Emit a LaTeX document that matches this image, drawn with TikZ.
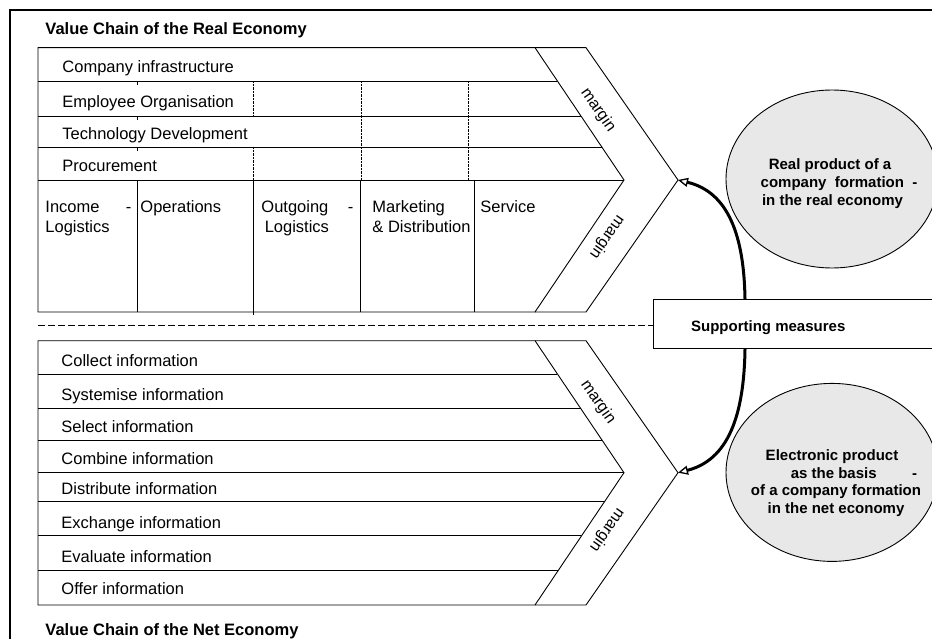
\documentclass[tikz,border=0pt]{standalone}
\usepackage{fontspec}
\setmainfont{Liberation Sans}
\usetikzlibrary{shapes.geometric,arrows.meta,calc}
\definecolor{ellfill}{RGB}{232,232,232}
\begin{document}
\begin{tikzpicture}[x=1pt,y=-1pt,
  line width=0.9pt,
  txt/.style={inner sep=0pt, anchor=base west, font=\fontsize{16.5}{19}\selectfont},
  ttl/.style={inner sep=0pt, anchor=base west, font=\fontsize{16.5}{19}\selectfont\bfseries},
  btxt/.style={inner sep=0pt, anchor=base, font=\fontsize{15}{18}\selectfont\bfseries},
  mrg/.style={inner sep=0pt, font=\fontsize{16}{19}\selectfont},
  dotv/.style={line width=1pt, dash pattern=on 0.7pt off 0.7pt},
  prod/.style={ellipse, draw, fill=ellfill, minimum width=212pt, minimum height=178pt, inner sep=0pt},
  flow/.style={line width=3pt, -{Triangle[open,length=10pt,width=9pt,line width=1.3pt]}},
  dashsep/.style={line width=1.4pt, dash pattern=on 6.5pt off 3.5pt},
]
\useasboundingbox (0,0) rectangle (932,639);
\clip (0,0) rectangle (932,639);
\fill[white] (0,0) rectangle (932,639);

% outer frame
\draw[line width=1.1pt] (10,650) -- (10,10) -- (945,10);

% titles
\node[ttl] (t1) at (45,35) {Value Chain of the Real Economy};
\node[ttl] (t2) at (45,635) {Value Chain of the Net Economy};

% ---- top chevron (real economy)
\draw (38,47.7) -- (535,47.7) -- (624,180) -- (535,312) -- (38,312) -- cycle;
\draw (535,47.7) -- (586,47.7) -- (678,180) -- (586,312) -- (535,312);
\coordinate (tipA) at (678,180);
\draw (38,81) -- (557.4,81);
\draw (38,116) -- (580.9,116);
\draw (38,147) -- (601.8,147);
\draw (38,180) -- (624,180);
% primary activity separators
\draw (137,180) -- (137,312);
\draw (253,180) -- (253,315);
\draw (360,180) -- (360,312);
\draw (474,180) -- (474,312);
% dotted separators in support rows
\draw[dotv] (253,81) -- (253,116);
\draw[dotv] (253,147) -- (253,180);
\draw[dotv] (361,81) -- (361,180);
\draw[dotv] (468,81) -- (468,180);
% small ticks
\draw (137,81) -- (137,85);
\draw (137,116) -- (137,120);
\draw (137,147) -- (137,151);

% support texts
\node[txt] (r1) at (62,72.3) {Company infrastructure};
\node[txt] (r2) at (62,107.3) {Employee Organisation};
\node[txt] (r3) at (62,139.3) {Technology Development};
\node[txt] (r4) at (62,172) {Procurement};
% primary texts
\node[txt] (p1a) at (45,212.7) {\makebox[86pt][l]{Income\hfill-}};
\node[txt] (p1b) at (45,232.7) {Logistics};
\node[txt] (p2) at (140,212.7) {Operations};
\node[txt] (p3a) at (261,212.7) {\makebox[92pt][l]{Outgoing\hfill-}};
\node[txt] (p3b) at (264.3,232.7) {Logistics};
\node[txt] (p4a) at (372,212.7) {Marketing};
\node[txt] (p4b) at (372,232.7) {\& Distribution};
\node[txt] (p5) at (480,212.7) {Service};

% ---- bottom chevron (net economy)
\draw (38,340.7) -- (535,340.7) -- (624,472.7) -- (535,605) -- (38,605) -- cycle;
\draw (535,340.7) -- (586,340.7) -- (678,472.7) -- (586,605) -- (535,605);
\coordinate (tipB) at (678,472.7);
\draw (38,374) -- (557.4,374);
\draw (38,408.7) -- (580.7,408.7);
\draw (38,440.3) -- (602,440.3);
\draw (38,472.7) -- (624,472.7);
\draw (38,501.3) -- (604.6,501.3);
\draw (38,535.7) -- (581.4,535.7);
\draw (38,570.7) -- (557.9,570.7);

\node[txt] (b1) at (61,366) {Collect information};
\node[txt] (b2) at (61,400) {Systemise information};
\node[txt] (b3) at (61,432.7) {Select information};
\node[txt] (b4) at (61,464.7) {Combine information};
\node[txt] (b5) at (61,494.7) {Distribute information};
\node[txt] (b6) at (61,528) {Exchange information};
\node[txt] (b7) at (61,562) {Evaluate information};
\node[txt] (b8) at (61,594.7) {Offer information};

% margin labels
\node[mrg, rotate=-55] (m1) at (598,110) {margin};
\node[mrg, rotate=-125] (m2) at (607,237) {margin};
\node[mrg, rotate=-55] (m3) at (598,402) {margin};
\node[mrg, rotate=-125] (m4) at (607,530) {margin};

% supporting measures box
\node[draw, fill=white, inner sep=0pt, minimum width=320pt, minimum height=49.3pt, anchor=north west] (sup) at (653,299) {};
\node[btxt, anchor=base west] (suptxt) at (690.7,331) {Supporting measures};
\coordinate (dashL) at (38,325.7);
\draw[dashsep] (dashL) -- (dashL -| sup.west);

% product ellipses
\node[prod] (ellA) at (832,179) {};
\node[btxt] (ea1) at (830,170) {Real product of a};
\node[btxt] (ea2) at (839,187.7) {company\ \ formation\ \ -};
\node[btxt] (ea3) at (832.5,205.7) {in the real economy};

\node[prod] (ellB) at (832,472.4) {};
\node[btxt] (eb1) at (832,460.7) {Electronic product};
\node[btxt] (eb2) at (854,478) {as the basis\hspace{35.5pt}-};
\node[btxt] (eb3) at (836,495.7) {of a company formation};
\node[btxt] (eb4) at (836,513.3) {in the net economy};

% arrows
\draw[flow] ($(sup.north west)+(92,0)$) .. controls (744,235) and (728,192) .. (tipA);
\draw[flow] ($(sup.south west)+(92,0)$) .. controls (744,416) and (728,460) .. (tipB);
\end{tikzpicture}
\end{document}
